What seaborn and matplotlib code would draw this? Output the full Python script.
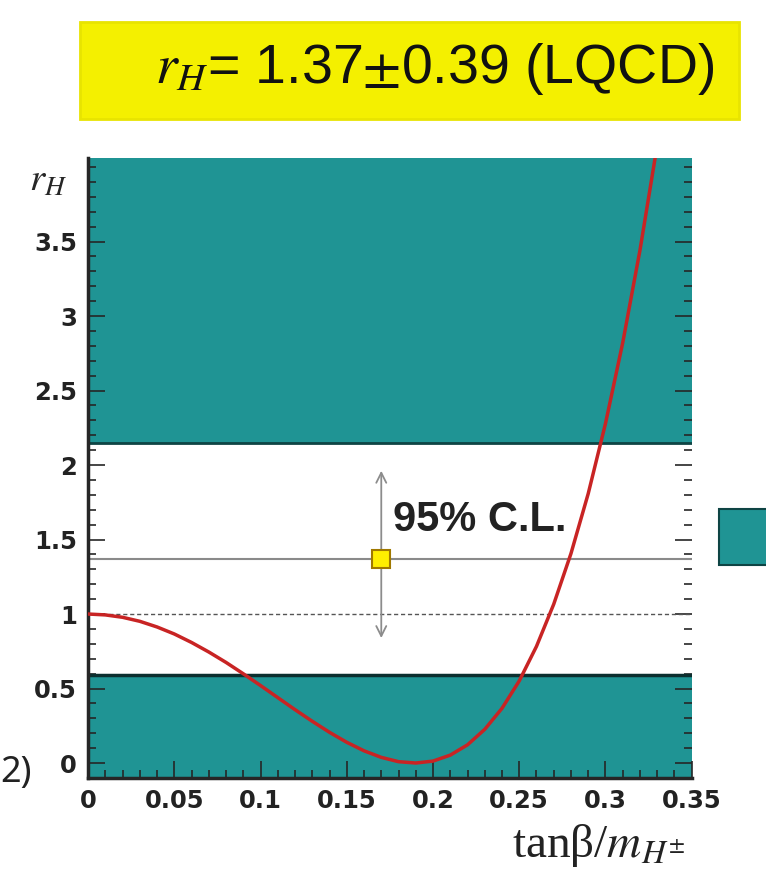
import matplotlib
matplotlib.use("Agg")
import matplotlib.pyplot as plt
from matplotlib.patches import FancyBboxPatch, Rectangle
from matplotlib.ticker import MultipleLocator
import seaborn as sns
import pandas as pd

# ---- data ----
x_curve = [0.00, 0.01, 0.02, 0.03, 0.04, 0.05, 0.06, 0.07, 0.08, 0.09, 0.10,
           0.11, 0.12, 0.13, 0.14, 0.15, 0.16, 0.17, 0.18, 0.19, 0.20, 0.21,
           0.22, 0.23, 0.24, 0.25, 0.26, 0.27, 0.28, 0.29, 0.30, 0.31, 0.32, 0.33]
r_curve = [1.000, 0.994, 0.978, 0.951, 0.913, 0.866, 0.809, 0.745, 0.675, 0.599, 0.520,
           0.439, 0.358, 0.280, 0.206, 0.139, 0.082, 0.038, 0.009, 0.000, 0.013, 0.053,
           0.122, 0.226, 0.367, 0.551, 0.783, 1.066, 1.406, 1.808, 2.278, 2.820, 3.441, 4.146]
r_central = 1.37
r_err = 0.39
band_low = 0.59      # central - 2 sigma
band_high = 2.15     # central + 2 sigma
point_x = 0.17
arrow_low = 0.82
arrow_high = 1.98
x_ticks = [0, 0.05, 0.1, 0.15, 0.2, 0.25, 0.3, 0.35]
x_ticklabels = ["0", "0.05", "0.1", "0.15", "0.2", "0.25", "0.3", "0.35"]
y_ticks = [0, 0.5, 1, 1.5, 2, 2.5, 3, 3.5]
y_ticklabels = ["0", "0.5", "1", "1.5", "2", "2.5", "3", "3.5"]

TEAL = "#1f9494"
sns.set_style("ticks")
plt.rcParams["font.family"] = ["Liberation Sans", "DejaVu Sans"]

fig = plt.figure(figsize=(7.66, 8.83), dpi=100)
ax = fig.add_axes([0.115, 0.119, 0.788, 0.702])
xmin, xmax, ymin, ymax = 0.0, 0.35, -0.1, 4.06
ax.set_xlim(xmin, xmax)
ax.set_ylim(ymin, ymax)

# excluded (teal) regions
ax.axhspan(ymin, band_low, color=TEAL, zorder=0, lw=0)
ax.axhspan(band_high, ymax, color=TEAL, zorder=0, lw=0)
ax.axhline(band_low, color="#0b2f2f", lw=2.5, zorder=1)
ax.axhline(band_high, color="#0e4444", lw=2.0, zorder=1)

# central value and reference
ax.axhline(r_central, color="#8a8a8a", lw=1.5, zorder=1)
ax.axhline(1.0, color="#555555", lw=1.0, ls=(0, (3, 2)), zorder=1)

# curve
df = pd.DataFrame({"x": x_curve, "r": r_curve})
sns.lineplot(data=df, x="x", y="r", ax=ax, color="#c82424", lw=2.5, zorder=3, sort=True)

# double arrow + point
ax.annotate("", xy=(point_x, arrow_high), xytext=(point_x, arrow_low),
            arrowprops=dict(arrowstyle="<->", color="#8c8c8c", lw=1.3, mutation_scale=18),
            zorder=2)
ax.plot([point_x], [r_central], marker="s", ms=13, mfc="#ffee00", mec="#a07800", mew=1.5, zorder=4)
ax.text(0.177, 1.63, "95% C.L.", fontsize=30, fontweight="bold", color="#222222",
        ha="left", va="center", zorder=4)

# axes styling
ax.set_xticks(x_ticks)
ax.set_xticklabels(x_ticklabels)
ax.set_yticks(y_ticks)
ax.set_yticklabels(y_ticklabels)
ax.xaxis.set_minor_locator(MultipleLocator(0.01))
ax.yaxis.set_minor_locator(MultipleLocator(0.1))
ax.tick_params(which="both", direction="in", top=False, right=True, width=1.2)
ax.tick_params(which="major", length=12, pad=8)
ax.tick_params(which="minor", length=6)
for lbl in ax.get_xticklabels() + ax.get_yticklabels():
    lbl.set_fontweight("bold")
    lbl.set_family("DejaVu Sans")
    lbl.set_fontsize(17.5)
    lbl.set_color("#222222")
for s in ["left", "bottom"]:
    ax.spines[s].set_linewidth(2.5)
for s in ["top", "right"]:
    ax.spines[s].set_visible(False)
ax.set_xlabel("")
ax.set_ylabel("")

# axis titles
fig.text(0.063, 0.795, r"$r_H$", fontsize=28, ha="center", va="center",
         math_fontfamily="stix")
fig.text(0.781, 0.043, r"tanβ/$m_{H^{\pm}}$", fontsize=34, ha="center",
         va="center", family="Liberation Serif", math_fontfamily="stix", color="#222222")

# title box
box = FancyBboxPatch((0.105, 0.865), 0.86, 0.11, boxstyle="square,pad=0",
                     transform=fig.transFigure, facecolor="#f4f000", edgecolor="#e8e400",
                     lw=2)
fig.patches.append(box)
fig.text(0.567, 0.922, r"$r_H$= 1.37$\pm$0.39 (LQCD)", fontsize=40, ha="center",
         va="center", math_fontfamily="stix", color="#111111")

# partially visible legend swatch on the right and cropped text on left
fig.patches.append(Rectangle((0.938, 0.36), 0.07, 0.064, transform=fig.transFigure,
                             facecolor=TEAL, edgecolor="#0e4444", lw=1.5))
fig.text(0.0, 0.125, "2)", fontsize=26, ha="left", va="center", color="#222222",
         family="Noto Sans")

fig.savefig("out.png", dpi=100)
